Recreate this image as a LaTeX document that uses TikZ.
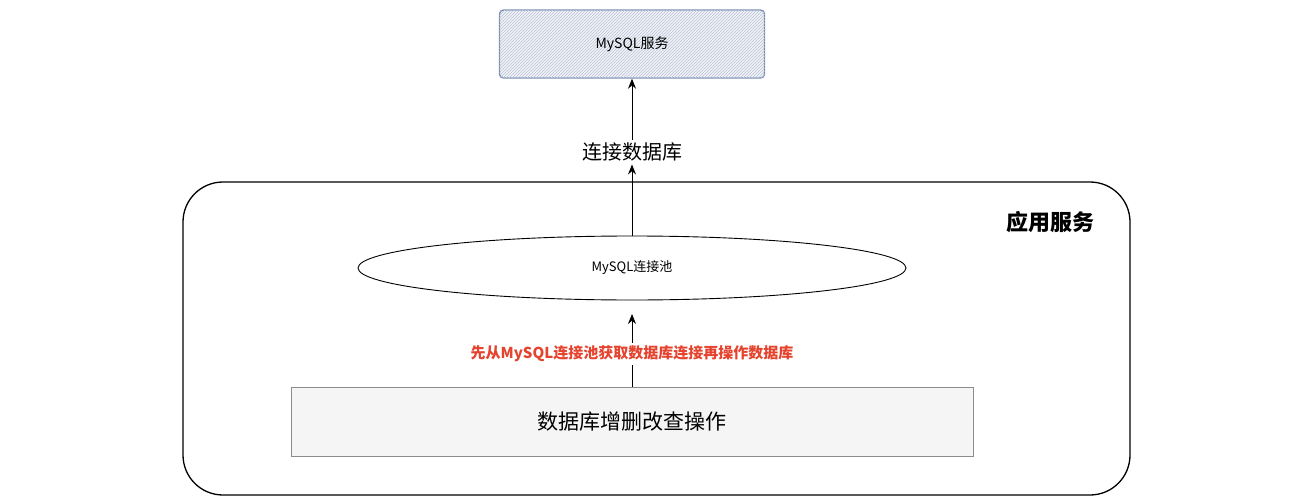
\documentclass[tikz,border=0pt]{standalone}
\usepackage{fontspec}
\setmainfont{Noto Sans CJK SC}
\usetikzlibrary{patterns,shapes.geometric,arrows.meta}
\definecolor{hatchblue}{HTML}{7E91B5}
\definecolor{notered}{HTML}{E5432E}

\begin{document}
\begin{tikzpicture}[x=1pt,y=-1pt]
    \tikzstyle{every node}=[inner sep=0]
    \tikzstyle{link}=[-{Stealth[length=10pt,width=8pt]}, line width=1pt]
    \useasboundingbox (0,0) rectangle (1300,500);
    % service box with hatching
    \node (SVC) [draw=hatchblue, line width=1.4pt, rounded corners=4pt, fill=hatchblue!10,
        postaction={pattern=north east lines, pattern color=hatchblue!55},
        minimum width=265, minimum height=68] at (632,44) {};
    \node (SVCT) at (632,44) [font=\fontsize{14}{16}\selectfont] {MySQL服务};
    % application frame
    \draw[line width=1.3pt, rounded corners=40] (183,182) rectangle (1130,495);
    \node (APP) at (1050,222) [font=\fontsize{22}{25}\selectfont\bfseries] {应用服务};
    % pool
    \node (POOL) [draw, ellipse, line width=.9pt, minimum width=548, minimum height=64,
        font=\fontsize{13}{15}\selectfont] at (632,268) {MySQL连接池};
    % operations
    \node (OPS) [draw=black!45, fill=black!4, line width=.9pt, minimum width=682, minimum height=69,
        font=\fontsize{21}{24}\selectfont] at (632,422) {数据库增删改查操作};
    \node (CONN) at (632,152) [fill=white, inner sep=3, font=\fontsize{20}{23}\selectfont] {连接数据库};
    \node (GET) at (632,354) [fill=white, inner sep=3, text=notered, font=\fontsize{15}{17}\selectfont\bfseries] {先从MySQL连接池获取数据库连接再操作数据库};
    \coordinate (TIP) at (632,314);
    \draw[link] (POOL.north) -- (CONN.south);
    \draw[link] (CONN.north) -- (SVC.south);
    \draw[line width=1pt] (OPS.north) -- (GET.south);
    \draw[link] (GET.north) -- (TIP);
\end{tikzpicture}
\end{document}
